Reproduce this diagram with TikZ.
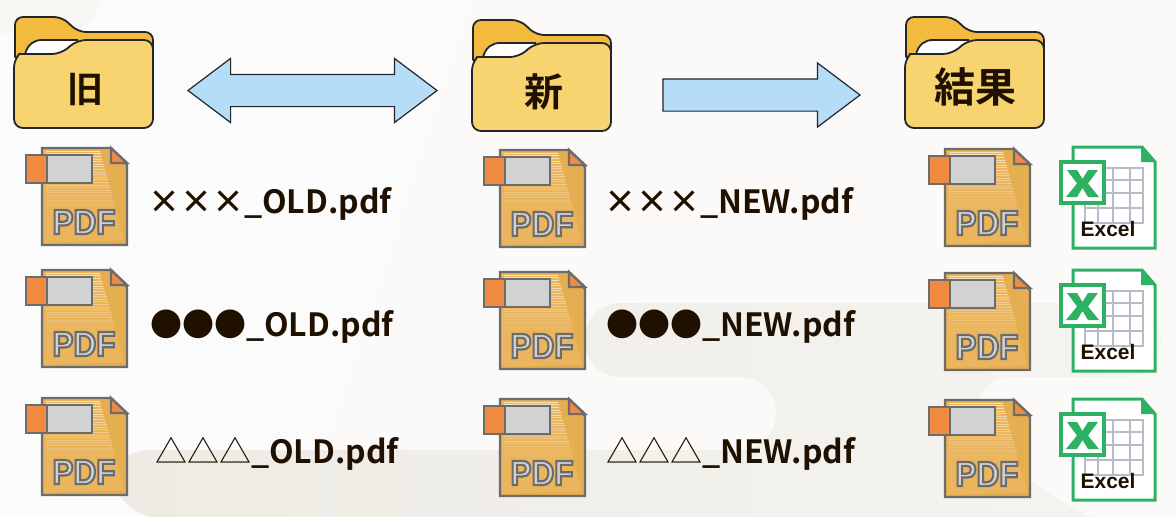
\documentclass[tikz,border=0pt]{standalone}
\usepackage{fontspec}
\usepackage{graphicx}
\usetikzlibrary{shapes.arrows,positioning}
\newfontfamily\cjkbold{Noto Sans CJK JP Bold}
\newfontfamily\cjkthin{Noto Sans CJK JP}
\newfontfamily\latinbold{Liberation Sans Bold}
\newcommand{\outlinedpdf}[1]{\textcolor{pdfgray}{\special{pdf:code q 2 Tr 2.2 w 0.42 0.42 0.42 RG}#1\special{pdf:code Q 0 Tr}}}
\definecolor{inkbrown}{HTML}{1F1000}
\definecolor{folderdark}{HTML}{F3BB3E}
\definecolor{folderlight}{HTML}{F8D470}
\definecolor{folderline}{HTML}{23252B}
\definecolor{pdfpage}{HTML}{E5AE50}
\definecolor{pdfwedge}{HTML}{EAB55C}
\definecolor{pdfline}{HTML}{6C6C6C}
\definecolor{pdfgray}{HTML}{D2D2D2}
\definecolor{pdforange}{HTML}{F28B42}
\definecolor{xlgreen}{HTML}{2FB163}
\definecolor{xlgrid}{HTML}{B6BBC6}
\definecolor{arrowblue}{HTML}{B5DDF7}
\definecolor{paper}{HTML}{FBFAF9}
\definecolor{bandleft}{HTML}{EEEBE4}
\definecolor{bandright}{HTML}{F5F4F1}
\tikzset{
  filename/.style={anchor=west,inner sep=0pt,text=inkbrown,font=\cjkbold\fontsize{32}{36}\selectfont},
  foldertext/.style={inner sep=0pt,text=inkbrown,font=\cjkbold\fontsize{#1}{44}\selectfont},
  blockarrow/.style={draw=folderline,fill=arrowblue,line width=1.2pt,inner xsep=0pt,inner ysep=15.5pt,outer sep=0pt},
  folder/.pic={
    \path[draw=folderline,fill=folderdark,line width=1.8pt,rounded corners=8pt]
      (1,45) -- (1,0) -- (48,0) -- (64,15) -- (139,15) -- (139,40) -- (1,45) -- cycle;
    \path[fill=white] (11,37) .. controls (14,27) and (20,23) .. (28,23) -- (64,23) -- (48,37) -- cycle;
    \path[draw=folderline,fill=folderlight,line width=1.8pt,rounded corners=9pt]
      (0,60) .. controls (0,42) and (6,37) .. (14,37) -- (47,37) -- (63,23) -- (139,23) -- (139,111) -- (0,111) -- cycle;
    \path[draw=folderline,line width=1.8pt] (11,37) .. controls (14,27) and (20,23) .. (28,23) -- (64,23);
  },
  pdfdoc/.pic={
    \path[fill=pdfpage] (0,0) -- (69,0) -- (85,17) -- (85,97) -- (0,97) -- cycle;
    \path[fill=pdfwedge] (2,2) -- (58,2) -- (82,92) -- (2,95) -- cycle;
    \foreach \k in {0,...,22}
      \draw[white,line width=.6pt,opacity={.6-.026*\k}] (4,{3+2.6*\k}) -- ({58+.28*\k*2.6},{3+2.6*\k});
    \path[draw=pdfline,line width=2.4pt] (0,0) -- (69,0) -- (85,17) -- (85,97) -- (0,97) -- cycle;
    \path[draw=pdfline,fill=pdforange,line width=2.4pt] (69,0) -- (69,15) -- (85,15) -- cycle;
    \path[draw=pdfline,fill=pdfgray,line width=2.4pt] (5,7) rectangle (50,35);
    \path[draw=pdfline,fill=pdforange,line width=2.4pt] (-16,7) rectangle (5,35);
    \node[inner sep=0pt,font=\latinbold\fontsize{35}{37}\selectfont] (-text) at (42,74)
      {\scalebox{.9}[1]{\outlinedpdf{PDF}}};
  },
  xlsheet/.pic={
    \path[draw=xlgreen,fill=white,line width=3pt] (1,1) -- (70,1) -- (83,16) -- (83,102) -- (1,102) -- cycle;
    \path[fill=xlgreen] (69,0) -- (84,16) -- (69,16) -- cycle;
    \foreach \gx in {13,26,41,58,71}
      \draw[xlgrid,line width=2.4pt] (\gx,21) -- (\gx,78);
    \foreach \gy in {22,34,47,62,77}
      \draw[xlgrid,line width=2.4pt] (13,\gy) -- (71,\gy);
    \path[draw=xlgreen,fill=white,line width=3.6pt] (-11,16) rectangle (32,57);
    \path[fill=xlgreen] (-5,24) -- (5,24) -- (10.5,33) -- (16,24) -- (26,24) -- (16,37.5) -- (27,51)
      -- (16,51) -- (10.5,42) -- (5,51) -- (-6,51) -- (5,37.5) -- cycle;
    \node[inner sep=0pt,text=inkbrown,font=\latinbold\fontsize{21}{23}\selectfont] (-text) at (36,83) {Excel};
  },
}
\begin{document}
\begin{tikzpicture}[x=1pt,y=-1pt]
  \useasboundingbox (0,0) rectangle (1176,517);
  \fill[paper] (0,0) rectangle (1176,517);
  \fill[white,opacity=.35] (0,0) -- (470,0) -- (300,517) -- (0,517) -- cycle;
  \fill[bandleft!30!paper] (0,0) -- (100,0) .. controls (98,20) and (80,33) .. (60,33) -- (0,33) -- cycle;
  \path[left color=bandleft,right color=bandright]
    (585,340) .. controls (585,318) and (600,303) .. (622,303) -- (1125,303)
    .. controls (1147,303) and (1161,320) .. (1161,340) .. controls (1161,360) and (1147,377) .. (1125,377)
    -- (1012,377) .. controls (990,377) and (976,395) .. (976,413) .. controls (976,450) and (1040,490) .. (1090,517)
    -- (150,517) .. controls (128,510) and (115,495) .. (115,480) .. controls (115,462) and (130,450) .. (150,450)
    -- (740,450) .. controls (762,450) and (776,432) .. (776,413) .. controls (776,394) and (762,377) .. (740,377)
    -- (622,377) .. controls (600,377) and (585,362) .. (585,340) -- cycle;

  \pic (foldOld) at (14,17) {folder};
  \pic (foldNew) at (472,20) {folder};
  \pic (foldRes) at (905,17) {folder};
  \node[foldertext=36] (lblOld) at (85,90) {旧};
  \node[foldertext=39] (lblNew) at (544,92) {新};
  \node[foldertext=41] (lblRes) at (975,87) {結果};

  \node[blockarrow,double arrow,minimum height=249pt,minimum width=63pt,
    double arrow head extend=16pt,double arrow tip angle=74] (arrBoth) at (312.5,90.5) {};
  \node[blockarrow,single arrow,minimum height=197pt,minimum width=62pt,
    single arrow head extend=16pt,single arrow tip angle=74,anchor=west] (arrNext) at (663,95) {};

  \foreach \nm/\px/\py in {oldA/42/148,oldB/42/270,oldC/42/398,
                           newA/500/150,newB/500/272,newC/500/399,
                           resA/945/149,resB/945/273,resC/945/400}
    \pic (\nm) at (\px,\py) {pdfdoc};
  \foreach \nm/\py in {xlA/146,xlB/269,xlC/398}
    \pic (\nm) at (1072,\py) {xlsheet};

  \node[filename] (nameOldA) at (148,204) {×××\_OLD.pdf};
  \node[filename] (nameOldB) at (150,327) {●●●\_OLD.pdf};
  \node[filename] (nameOldC) at (155,454) {{\cjkthin △△△}\_OLD.pdf};
  \node[filename] (nameNewA) at (604,204) {×××\_NEW.pdf};
  \node[filename] (nameNewB) at (606,327) {●●●\_NEW.pdf};
  \node[filename] (nameNewC) at (606,454) {{\cjkthin △△△}\_NEW.pdf};
\end{tikzpicture}
\end{document}
